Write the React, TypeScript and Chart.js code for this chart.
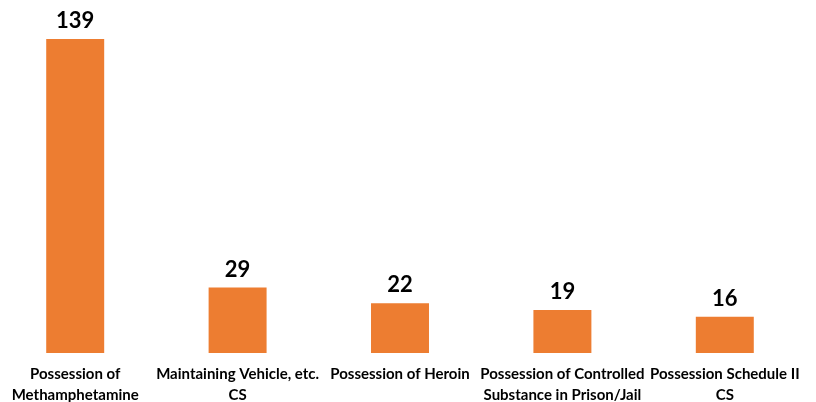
import React, { useEffect, useRef } from "react";
import { Chart, registerables } from "chart.js";

Chart.register(...registerables);

const categories: string[][] = [
  ["Possession of", "Methamphetamine"],
  ["Maintaining Vehicle, etc.", "CS"],
  ["Possession of Heroin"],
  ["Possession of Controlled", "Substance in Prison/Jail"],
  ["Possession Schedule II", "CS"],
];
const counts: number[] = [139, 29, 22, 19, 16];

const barColor = "#ED7D31";

const valueLabels = {
  id: "valueLabels",
  afterDatasetsDraw(chart: any) {
    const ctx = chart.ctx;
    const meta = chart.getDatasetMeta(0);
    ctx.save();
    ctx.font = "bold 22px Lato, 'Liberation Sans', sans-serif";
    ctx.fillStyle = "#000000";
    ctx.textAlign = "center";
    ctx.textBaseline = "alphabetic";
    meta.data.forEach((el: any, i: number) => {
      ctx.fillText(String(chart.data.datasets[0].data[i]), el.x, el.y - 11);
    });
    ctx.restore();
  },
};

export default function App() {
  const ref = useRef<HTMLCanvasElement | null>(null);
  useEffect(() => {
    if (!ref.current) return;
    const chart = new Chart(ref.current, {
      type: "bar",
      data: {
        labels: categories,
        datasets: [
          {
            data: counts,
            backgroundColor: barColor,
            borderWidth: 0,
            barPercentage: 0.357,
            categoryPercentage: 1,
          },
        ],
      },
      options: {
        animation: false,
        responsive: true,
        maintainAspectRatio: false,
        layout: { padding: 0 },
        plugins: { legend: { display: false }, tooltip: { enabled: false } },
        scales: {
          x: {
            grid: { display: false },
            border: { display: false },
            ticks: {
              maxRotation: 0,
              minRotation: 0,
              autoSkip: false,
              padding: 2,
              color: "#000000",
              font: { family: "Lato, 'Liberation Sans', sans-serif", size: 15, weight: "bold", lineHeight: 1.45 },
            },
            afterFit(scale: any) {
              scale.height = 49;
            },
          },
          y: {
            display: false,
            min: 0,
            max: 156.3,
          },
        },
      },
      plugins: [valueLabels],
    });
    return () => chart.destroy();
  }, []);
  return (
    <div style={{ position: "absolute", left: -6, top: 0, width: 812, height: 402 }}>
      <canvas ref={ref} />
    </div>
  );
}
